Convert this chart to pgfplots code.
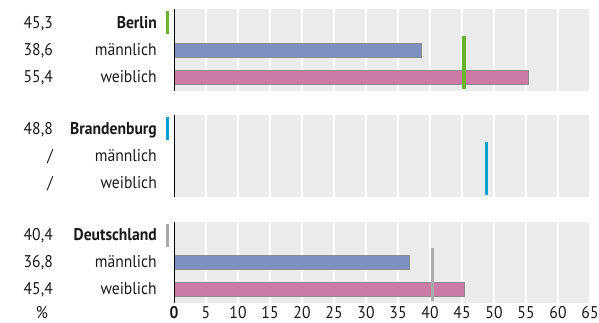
\documentclass[border=0pt]{standalone}
\usepackage{pgfplots}
\pgfplotsset{compat=1.18}
\usepackage{fontspec}
\setmainfont{PT Sans}[FakeStretch=0.92]

\definecolor{panelgray}{HTML}{EBEBEB}
\definecolor{maleblue}{HTML}{7D91C0}
\definecolor{femalepink}{HTML}{CC7AA6}
\definecolor{barborder}{HTML}{8C8C8C}
\definecolor{berlingreen}{HTML}{6AB42D}
\definecolor{bbblue}{HTML}{00A0D2}
\definecolor{degray}{HTML}{AAAAAA}
\definecolor{txt}{HTML}{1A1A1A}

% row label: value | name | coloured key
\newcommand{\lab}[3]{\rule[-6pt]{0pt}{23pt}\makebox[40pt][r]{#1}\makebox[104pt][r]{#2}\makebox[17pt][l]{\hspace{9pt}\textcolor{#3}{\rule[-6pt]{3.5pt}{23pt}}}}
\newcommand{\labn}[2]{\rule[-6pt]{0pt}{23pt}\makebox[40pt][r]{#1}\makebox[104pt][r]{#2}\makebox[17pt][l]{}}

\pgfplotsset{
  panel/.style={
    scale only axis, width=416pt, height=81pt,
    xmin=0, xmax=65, ymin=-0.5, ymax=2.5, y dir=reverse,
    axis line style={draw=none},
    axis background/.style={fill=panelgray},
    xmajorgrids, grid style={white, line width=2pt},
    xtick={0,5,...,65}, ytick={0,1,2},
    major tick length=0pt, tick style={draw=none},
    yticklabel style={anchor=east, inner sep=0pt, text=txt},
    xticklabel style={anchor=north, inner sep=0pt, yshift=-3.5pt, text=txt},
    /pgf/number format/assume math mode=true,
    font=\fontsize{17}{20}\selectfont,
    xticklabels={},
  },
  malebar/.style={xbar, bar shift=0pt, bar width=14pt, fill=maleblue, draw=barborder, line width=0.8pt},
  femalebar/.style={xbar, bar shift=0pt, bar width=14pt, fill=femalepink, draw=barborder, line width=0.8pt},
}

\begin{document}
\begin{tikzpicture}
\useasboundingbox (0,0) rectangle (599pt,-323pt);

% Berlin
\begin{axis}[panel, at={(174pt,-9.5pt)}, anchor=north west,
  yticklabels={{\lab{45,3}{\textbf{Berlin}}{berlingreen}},{\labn{38,6}{männlich}},{\labn{55,4}{weiblich}}}]
  \addplot[malebar] coordinates {(38.6,1)};
  \addplot[femalebar] coordinates {(55.4,2)};
  \addplot[berlingreen, line width=3.5pt] coordinates {(45.3,0.48) (45.3,2.43)};
  \draw[black, line width=2.5pt] (rel axis cs:0,0) -- (rel axis cs:0,1);
\end{axis}

% Brandenburg
\begin{axis}[panel, at={(174pt,-115.5pt)}, anchor=north west,
  yticklabels={{\lab{48,8}{\textbf{Brandenburg}}{bbblue}},{\labn{/}{männlich}},{\labn{/}{weiblich}}}]
  \addplot[bbblue, line width=3.5pt] coordinates {(48.8,0.48) (48.8,2.43)};
  \draw[black, line width=2.5pt] (rel axis cs:0,0) -- (rel axis cs:0,1);
\end{axis}

% Deutschland
\begin{axis}[panel, at={(174pt,-221.5pt)}, anchor=north west,
  yticklabels={{\lab{40,4}{\textbf{Deutschland}}{degray}},{\labn{36,8}{männlich}},{\labn{45,4}{weiblich}}},
  xticklabels={\textbf{0},5,10,15,20,25,30,35,40,45,50,55,60,65}]
  \addplot[malebar] coordinates {(36.8,1)};
  \addplot[femalebar] coordinates {(45.4,2)};
  \addplot[degray, line width=3.5pt] coordinates {(40.4,0.48) (40.4,2.43)};
  \draw[black, line width=2.5pt] (rel axis cs:0,0) -- (rel axis cs:0,1);
\end{axis}

\node[text=txt, font=\fontsize{17}{20}\selectfont] at (42pt,-313pt) {\%};
\end{tikzpicture}
\end{document}
